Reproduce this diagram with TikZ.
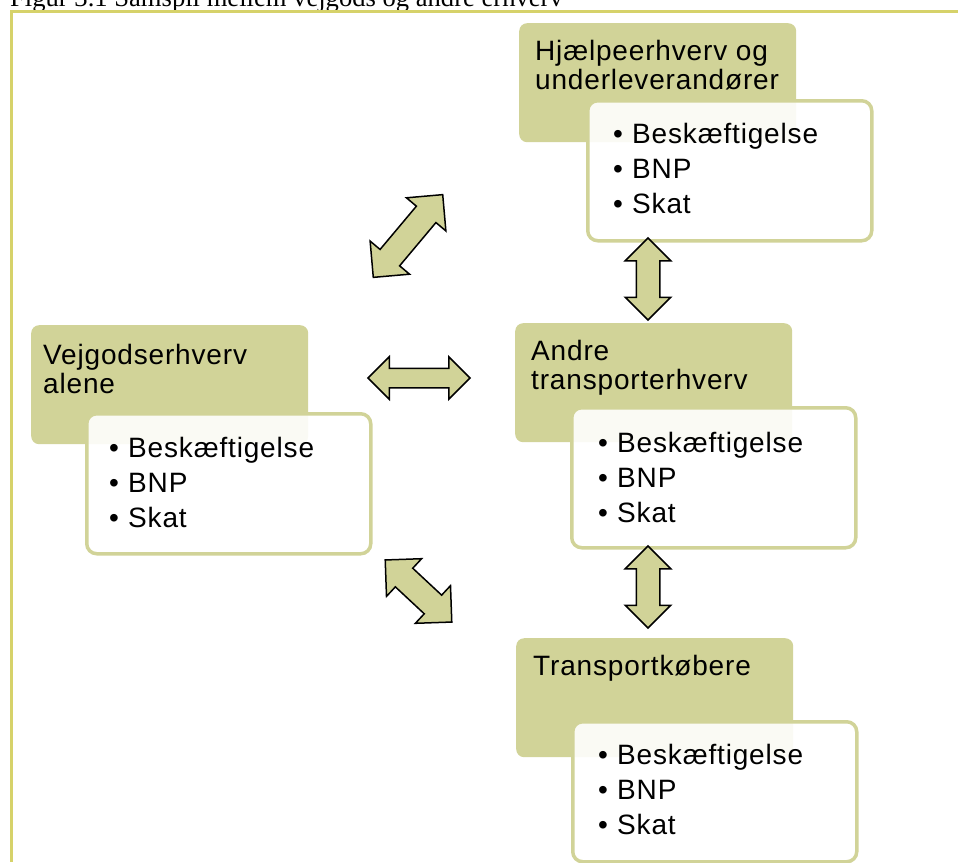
\documentclass[tikz,border=0pt]{standalone}
\usepackage{fontspec}
\setmainfont{Liberation Sans}[LetterSpace=3]
\newfontfamily\figfont{Liberation Serif}
\usepackage{tikz}
\usetikzlibrary{positioning}
\usetikzlibrary{shapes.arrows}

\definecolor{olive-fill}{RGB}{209,211,152}
\definecolor{frame-line}{RGB}{214,210,106}

\newcommand{\factlines}{\makebox[19pt][l]{\textbullet}Beskæftigelse\\
    \makebox[19pt][l]{\textbullet}BNP\\
    \makebox[19pt][l]{\textbullet}Skat}

\begin{document}
\begin{tikzpicture}[x=1pt, y=-1pt]
    \tikzstyle{group} = [fill=olive-fill, rounded corners=8pt, minimum width=277pt, minimum height=119pt, anchor=north west, inner sep=0pt];
    \tikzstyle{group-title} = [anchor=base west, align=left, inner sep=0pt, font=\fontsize{28}{29}\selectfont];
    \tikzstyle{facts} = [draw=olive-fill, line width=3.5pt, fill=white, fill opacity=0.9, rounded corners=10pt, minimum width=284pt, minimum height=140pt, anchor=north west, inner sep=0pt];
    \tikzstyle{fact-list} = [anchor=base west, align=left, inner sep=0pt, font=\fontsize{28}{35}\selectfont];
    \tikzstyle{flow} = [double arrow, draw=black, line width=1.5pt, fill=olive-fill, double arrow head extend=12pt, inner sep=10pt];

    \useasboundingbox (0,0) rectangle (958,862);

    % caption and frame
    \node[anchor=base west, inner sep=0pt, font=\figfont\fontsize{26.6}{28}\selectfont] (caption) at (10,6)
        {Figur 3.1 Samspil mellem vejgods og andre erhverv};
    \draw[frame-line, line width=3pt] (958,11.7) -- (11.7,11.7) -- (11.7,862);

    % Hjaelpeerhverv (base = last line)
    \node[group] (grp-h) at (519,23) {};
    \node[group-title] (title-h) at (535,89) {Hjælpeerhverv og\\underleverandører};
    \node[facts] (box-h) at (586,99) {};
    \node[fact-list] (list-h) at (613,213) {\factlines};

    % Andre transporterhverv
    \node[group] (grp-a) at (515,323) {};
    \node[group-title] (title-a) at (531,389) {Andre\\transporterhverv};
    \node[facts] (box-a) at (570,406) {};
    \node[fact-list] (list-a) at (598,522) {\factlines};

    % Transportkoebere
    \node[group] (grp-t) at (516,638) {};
    \node[group-title] (title-t) at (533,675) {Transportkøbere};
    \node[facts] (box-t) at (571,720) {};
    \node[fact-list] (list-t) at (598,834) {\factlines};

    % Vejgodserhverv
    \node[group] (grp-v) at (31,325) {};
    \node[group-title] (title-v) at (43,393) {Vejgodserhverv\\alene};
    \node[facts] (box-v) at (85,412) {};
    \node[fact-list] (list-v) at (109,527) {\factlines};

    % arrows
    \node[flow, minimum height=108pt, inner sep=12pt, double arrow head extend=13pt, rotate=50] (arr-v-h) at (408,236) {};
    \node[flow, minimum height=102pt, inner sep=9pt, double arrow head extend=11.5pt] (arr-v-a) at (419,378) {};
    \node[flow, minimum height=91pt, inner sep=12pt, double arrow head extend=13pt, rotate=-43] (arr-v-t) at (418.5,591) {};
    \node[flow, minimum height=82pt, inner sep=11pt, double arrow head extend=11pt, rotate=90] (arr-h-a) at (648,279) {};
    \node[flow, minimum height=82pt, inner sep=11pt, double arrow head extend=11pt, rotate=90] (arr-a-t) at (648,587) {};
\end{tikzpicture}
\end{document}
